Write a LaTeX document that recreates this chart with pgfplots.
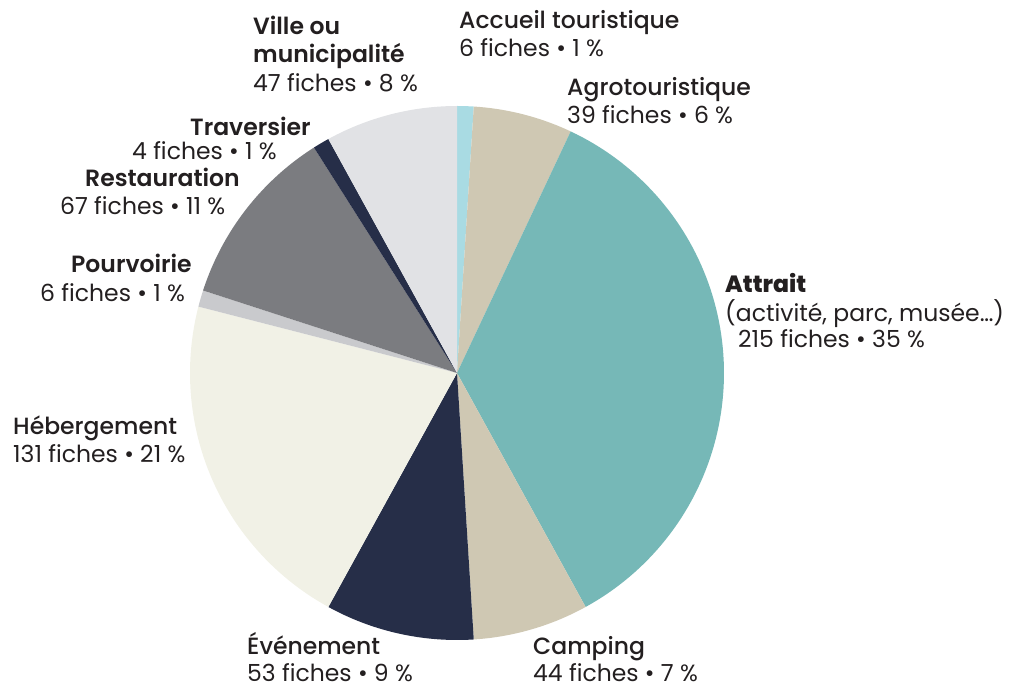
\documentclass[border=0pt]{standalone}
\usepackage{pgfplots}
\pgfplotsset{compat=1.18}
\usepackage{fontspec}
\setmainfont{Poppins}
\newfontfamily\pmed{Poppins Medium}
\newfontfamily\psemi{Poppins SemiBold}
\newfontfamily\pbold{Poppins ExtraBold}

\definecolor{accueil}{HTML}{A9DBE3}
\definecolor{agro}{HTML}{CFC8B3}
\definecolor{attrait}{HTML}{76B8B7}
\definecolor{navy}{HTML}{262E48}
\definecolor{heberg}{HTML}{F1F1E6}
\definecolor{pourv}{HTML}{C9CACD}
\definecolor{resto}{HTML}{7B7C80}
\definecolor{ville}{HTML}{E1E2E5}
\definecolor{txt}{HTML}{231F20}

% shares in percent, clockwise from the top
% start, share, colour
\newcommand{\slice}[3]{%
  \pgfmathsetmacro\aA{90-(#1+#2)*3.6}%
  \pgfmathsetmacro\aB{90-#1*3.6}%
  \addplot[fill=#3, draw=none, domain=\aA:\aB, samples=90]
    ({457+267*cos(x)},{315+267*sin(x)}) -- (axis cs:457,315) -- cycle;
}
\newcommand{\lab}[3]{\node[anchor=base west, inner sep=0pt, text=txt,
  font=\fontsize{23.5}{28}\selectfont] at (axis cs:#1,688-#2) {#3};}

\begin{document}
\begin{tikzpicture}
\begin{axis}[
  scale only axis, width=1012pt, height=688pt,
  xmin=0, xmax=1012, ymin=0, ymax=688,
  axis line style={draw=none}, xtick=\empty, ytick=\empty,
  clip=false,
]
\slice{0}{1}{accueil}
\slice{1}{6}{agro}
\slice{7}{35}{attrait}
\slice{42}{7}{agro}
\slice{49}{9}{navy}
\slice{58}{21}{heberg}
\slice{79}{1}{pourv}
\slice{80}{11}{resto}
\slice{91}{1}{navy}
\slice{92}{8}{ville}

\lab{459}{29}{\pmed Accueil touristique}
\lab{459}{57}{6 fiches • 1 \%}
\lab{253}{35}{\psemi Ville ou}
\lab{253}{63}{\psemi municipalité}
\lab{253}{92}{47 fiches • 8 \%}
\lab{567}{96}{\pmed Agrotouristique}
\lab{567}{124}{39 fiches • 6 \%}
\lab{190}{136}{\psemi Traversier}
\lab{132}{160}{4 fiches • 1 \%}
\lab{85}{187}{\psemi Restauration}
\lab{60}{215}{67 fiches • 11 \%}
\lab{71}{273}{\psemi Pourvoirie}
\lab{40}{302}{6 fiches • 1 \%}
\lab{725}{293}{\pbold Attrait}
\lab{725}{322}{(activité, parc, musée…)}
\lab{738}{348}{215 fiches • 35 \%}
\lab{13}{435}{\pmed Hébergement}
\lab{13}{463}{131 fiches • 21 \%}
\lab{247}{655}{\pmed Événement}
\lab{247}{682}{53 fiches • 9 \%}
\lab{533}{655}{\pmed Camping}
\lab{533}{682}{44 fiches • 7 \%}
\end{axis}
\end{tikzpicture}
\end{document}
